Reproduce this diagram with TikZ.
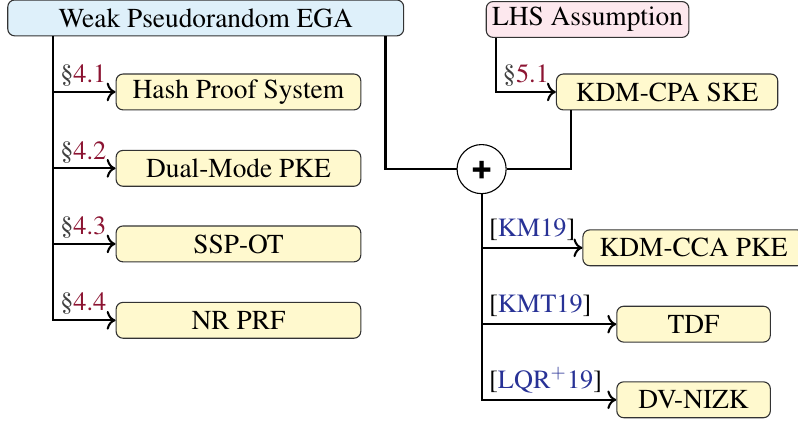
\documentclass[tikz,border=0pt]{standalone}
\usepackage[T1]{fontenc}
\usepackage{mathptmx}
\usepackage[scaled=0.92]{helvet}
\usepackage{xcolor}
\usepackage{tikz}
\usetikzlibrary{positioning, calc, arrows.meta, shapes.geometric}
\definecolor{egablue}{RGB}{222, 240, 250}
\definecolor{lhspink}{RGB}{253, 232, 238}
\definecolor{primyellow}{RGB}{255, 249, 206}
\definecolor{secred}{RGB}{140, 20, 50}
\definecolor{citeblue}{RGB}{40, 50, 150}
\newcommand{\secref}[1]{{\color{black!75}\S}\textcolor{secred}{#1}}
\newcommand{\citeref}[1]{[\textcolor{citeblue}{#1}]}
\tikzset{
    primnode/.style={
        draw=black!80, rounded corners=2.5pt, fill=primyellow,
        minimum height=0.46cm, inner sep=1pt, anchor=center
    },
    plusnode/.style={
        circle, draw, fill=white, minimum size=0.63cm, inner sep=0pt,
        font=\sffamily\bfseries\Large
    },
    conn/.style={
        line width=0.75pt
    }
}

\begin{document}
\begin{tikzpicture}[
        % Style cho nhan tren mui ten
        seclbl/.style={anchor=base west, font=\fontsize{9.6}{11}\selectfont, inner sep=0pt, xshift=2.2pt, yshift=3.4pt},
        citelbl/.style={anchor=base west, font=\fontsize{9.6}{11}\selectfont, inner sep=0pt, xshift=2.4pt, yshift=4.3pt},
        % Style cho mui ten
        arr/.style={conn, ->, >=To}
    ]
    \useasboundingbox (0,0) rectangle (10.24,-5.43);

    % --- 1. CAC GIA THIET ---
    \node[primnode, fill=egablue, minimum width=5.08cm] (ega) at (2.64,-0.23) {Weak Pseudorandom EGA};
    \node[primnode, fill=lhspink, minimum width=2.60cm] (lhs) at (7.54,-0.25) {LHS Assumption};

    % --- 2. CAC NGUYEN THUY ---
    \node[primnode, minimum width=3.14cm] (hps) at (3.06,-1.18) {Hash Proof System};
    \node[primnode, minimum width=3.14cm] (dmpke) at (3.06,-2.16) {Dual-Mode PKE};
    \node[primnode, minimum width=3.14cm] (sspot) at (3.06,-3.13) {SSP-OT};
    \node[primnode, minimum width=3.14cm] (nrprf) at (3.06,-4.11) {NR PRF};
    \node[primnode, minimum width=2.84cm] (cpaske) at (8.56,-1.18) {KDM-CPA SKE};
    \node[plusnode] (plus) at (6.18,-2.17) {+};
    \node[primnode, minimum width=2.84cm] (ccapke) at (8.90,-3.18) {KDM-CCA PKE};
    \node[primnode, minimum width=1.97cm] (tdf) at (8.90,-4.16) {TDF};
    \node[primnode, minimum width=1.97cm] (dvnizk) at (8.90,-5.13) {DV-NIZK};

    % --- 3. CAC MUI TEN ---
    \coordinate (lt) at ($(ega.south west)+(0.59,0)$);
    \coordinate (rt) at ($(ega.south east)+(-0.24,0)$);
    \foreach \n/\s in {hps/4.1, dmpke/4.2, sspot/4.3, nrprf/4.4}
        \draw[arr] (lt) |- node[seclbl] {\secref{\s}} (\n.west);

    \draw[arr] ($(lhs.south west)+(0.13,0)$) |- node[seclbl] {\secref{5.1}} (cpaske.west);
    \draw[conn] (rt) |- (plus.west);
    \draw[conn] ($(cpaske.south west)+(0.19,0)$) |- (plus.east);

    \draw[arr] (plus.south) |- node[citelbl] {\citeref{KM19}} (ccapke.west);
    \draw[arr] (plus.south) |- node[citelbl] {\citeref{KMT19}} (tdf.west);
    \draw[arr] (plus.south) |- node[citelbl] {\citeref{LQR$^{+}$19}} (dvnizk.west);

\end{tikzpicture}
\end{document}
